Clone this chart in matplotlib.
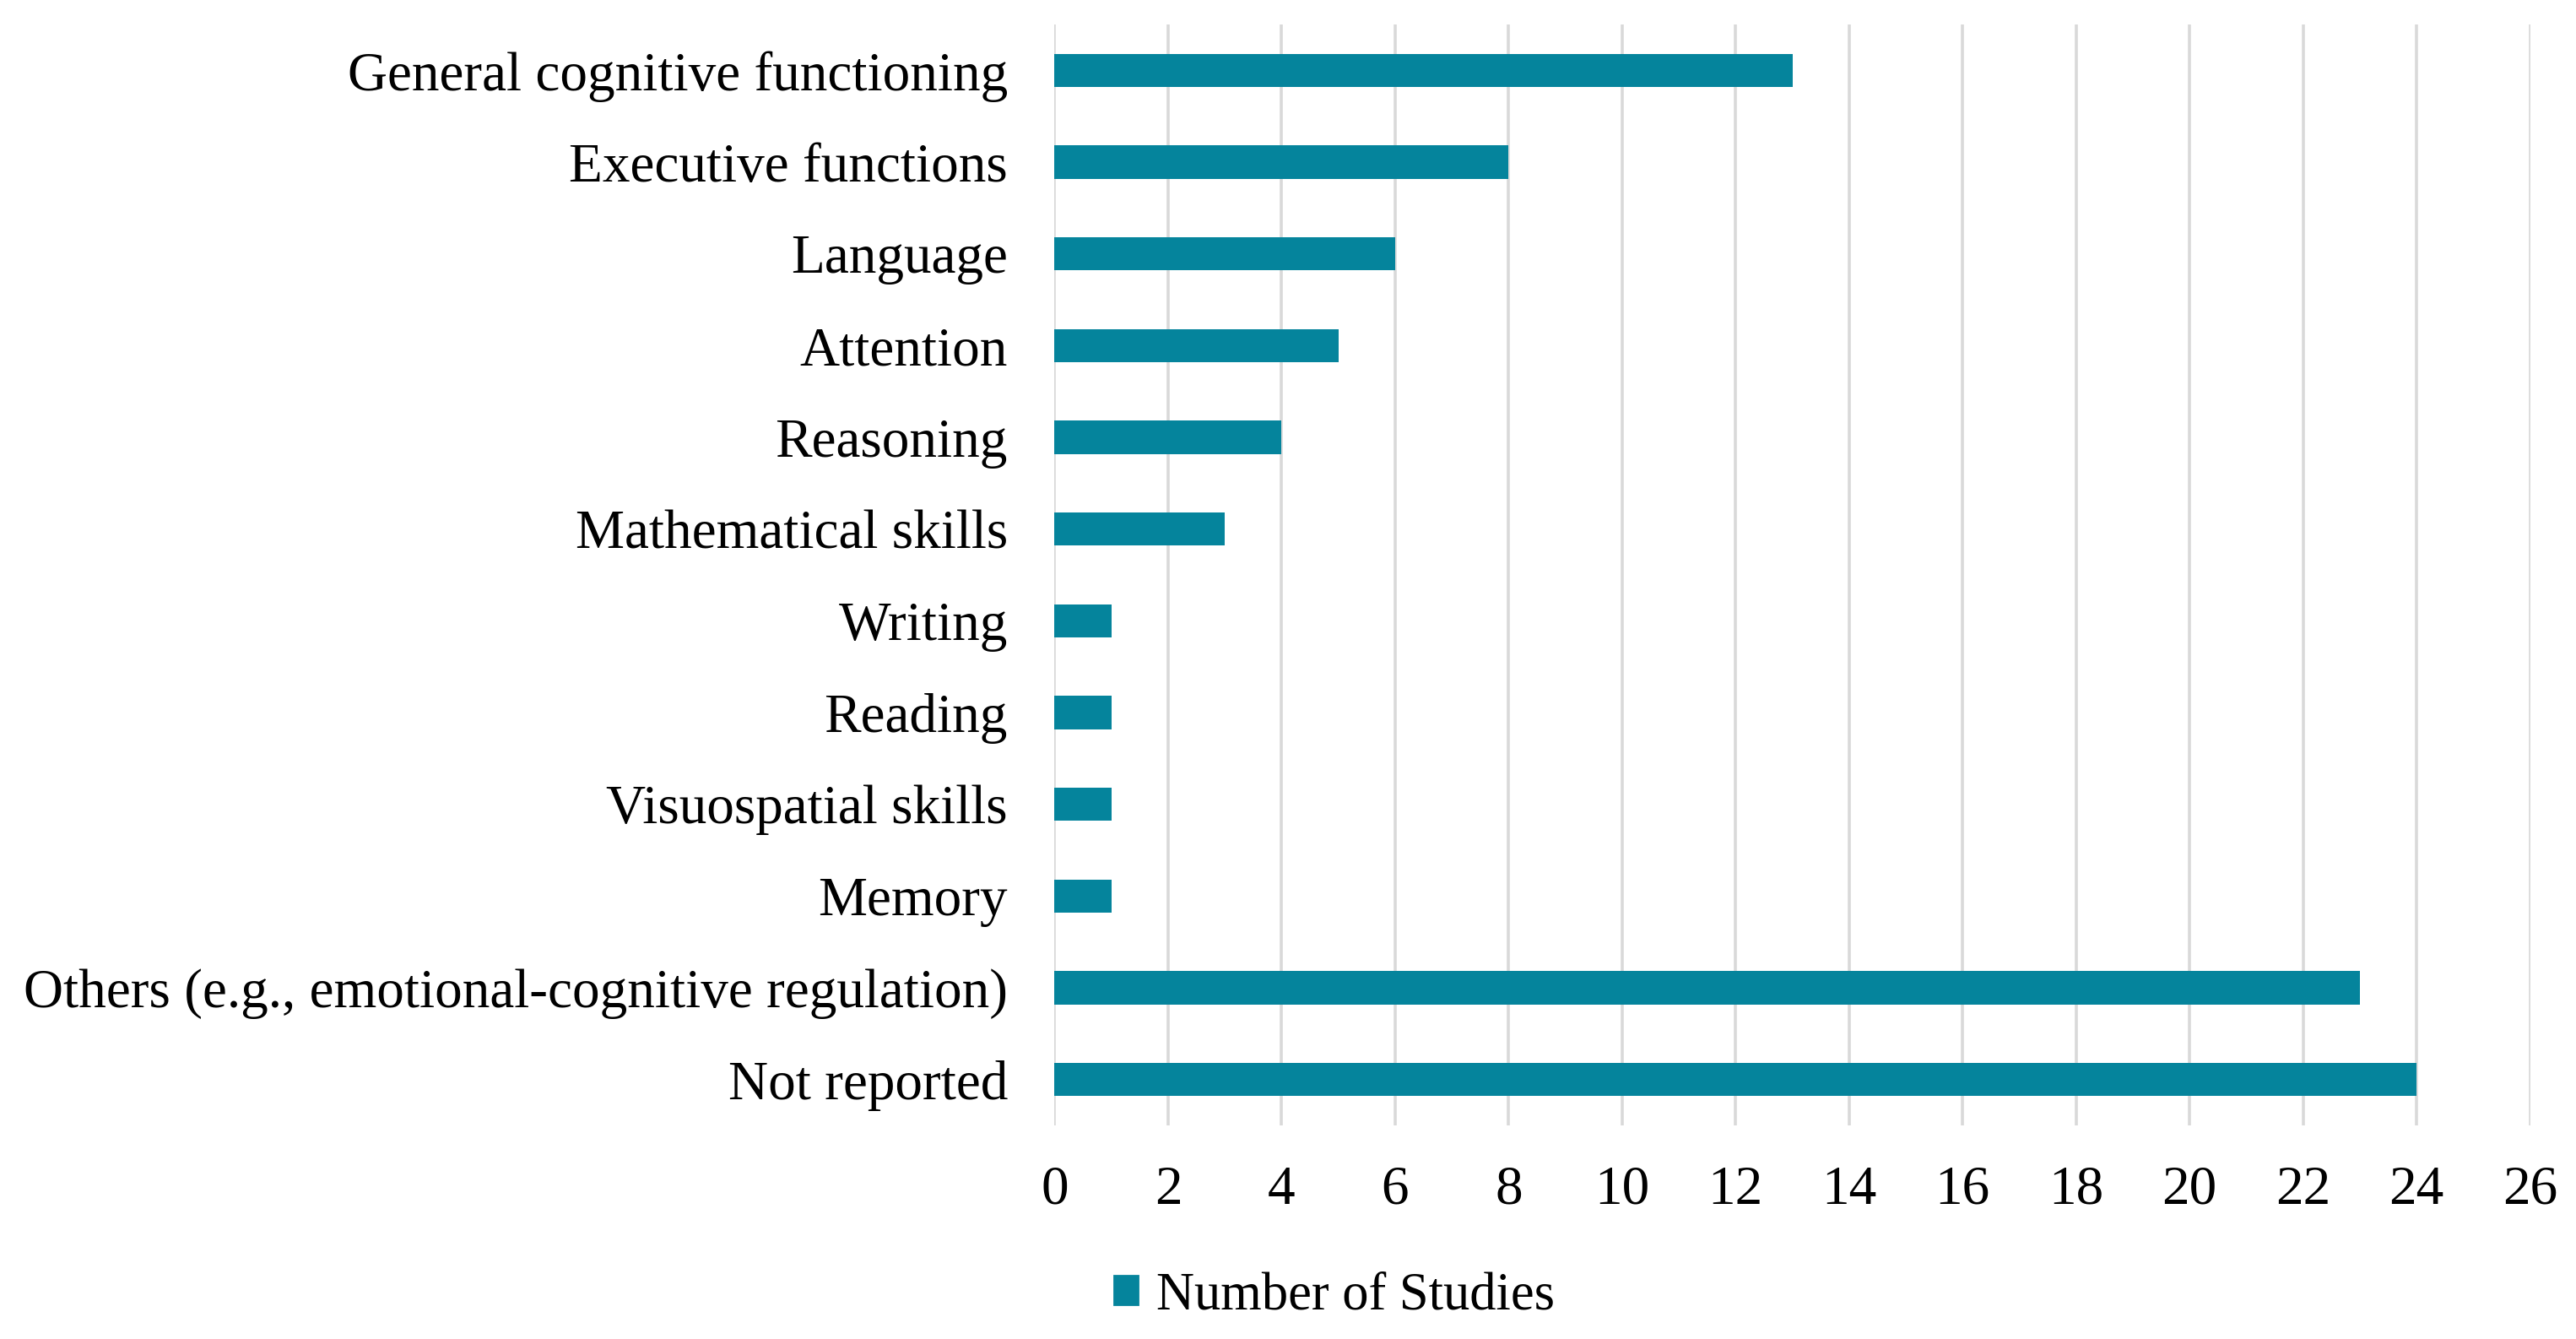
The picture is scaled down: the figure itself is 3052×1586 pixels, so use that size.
import matplotlib
matplotlib.use("Agg")
import matplotlib.pyplot as plt
from matplotlib.patches import Patch

# dados
categorias = [
    "General cognitive functioning",
    "Executive functions",
    "Language",
    "Attention",
    "Reasoning",
    "Mathematical skills",
    "Writing",
    "Reading",
    "Visuospatial skills",
    "Memory",
    "Others (e.g., emotional-cognitive regulation)",
    "Not reported",
]
n_estudos = [13, 8, 6, 5, 4, 3, 1, 1, 1, 1, 23, 24]
ticks_x = list(range(0, 27, 2))
legenda = "Number of Studies"

COR = "#05849C"
TAM = 23.5
plt.rcParams["font.family"] = ["Liberation Serif", "DejaVu Serif"]

fig = plt.figure(figsize=(15.26, 7.93), dpi=200)
ax = fig.add_axes([0.4094, 0.1595, 0.5728, 0.8222])

pos = list(range(len(categorias)))
ax.barh(pos, n_estudos, height=0.36, color=COR, zorder=3)

ax.set_ylim(len(categorias) - 0.5, -0.5)
ax.set_xlim(0, 26)
ax.set_xticks(ticks_x)
ax.set_yticks(pos)
ax.set_yticklabels(categorias)

ax.grid(axis="x", color="#D9D9D9", linewidth=1.3, zorder=0)
ax.grid(axis="y", visible=False)
for s in ax.spines.values():
    s.set_visible(False)
ax.tick_params(axis="both", length=0, labelsize=TAM, colors="black")
ax.tick_params(axis="y", pad=20)
ax.tick_params(axis="x", pad=17)

fig.legend(handles=[Patch(color=COR, label=legenda)], loc="center",
           bbox_to_anchor=(0.518, 0.032), frameon=False, fontsize=22.5,
           handlelength=0.45, handleheight=0.45, handletextpad=0.35)

fig.savefig("out.png", dpi=200)
